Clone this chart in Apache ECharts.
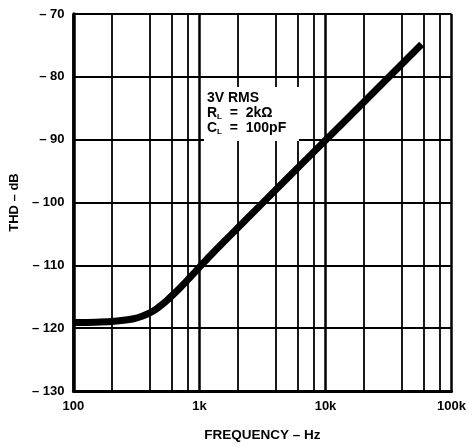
<!DOCTYPE html>
<html>
<head>
<meta charset="utf-8">
<script src="https://cdn.jsdelivr.net/npm/echarts@6/dist/echarts.min.js"></script>
<style>html,body{margin:0;padding:0;background:#fff}#c{width:469px;height:447px}</style>
</head>
<body>
<div id="c"></div>
<script>
var freq = [100, 150, 200, 250, 300, 350, 400, 450, 500, 550, 600, 700, 800, 900, 1000, 1200, 1500, 2000, 5000, 10000, 20000, 58000];
var thd = [-119.1, -119.05, -118.95, -118.75, -118.5, -118.1, -117.6, -117.0, -116.3, -115.6, -114.9, -113.6, -112.4, -111.3, -110.3, -108.6, -106.6, -104.1, -96.1, -90.1, -84.1, -74.8];
var minorFreqs = [200, 400, 600, 800, 2000, 4000, 6000, 8000, 20000, 40000, 60000, 80000];
var yTicks = [-130, -120, -110, -100, -90, -80, -70];
var xTickLabels = {100: '100', 1000: '1k', 10000: '10k', 100000: '100k'};
var noteLines = ['3V RMS', 'R{s|L}  =  2kΩ', 'C{s|L}  =  100pF'];

var font = '"Liberation Sans", Arial, Helvetica, sans-serif';
var chart = echarts.init(document.getElementById('c'), null, {renderer: 'canvas'});
var data = freq.map(function (f, i) { return [f, thd[i]]; });

var noteGraphics = [{
  type: 'rect', left: 204, top: 87, z: 100,
  shape: {width: 95, height: 54},
  style: {fill: '#fff'}
}];
noteLines.forEach(function (t, i) {
  noteGraphics.push({
    type: 'text', left: 207, top: 91 + i * 15, z: 101,
    style: {
      text: t, fill: '#000', fontSize: 14, fontWeight: 'bold', fontFamily: font,
      rich: {s: {fontSize: 8, fontWeight: 'bold', fontFamily: font, verticalAlign: 'bottom', padding: [7, 0, 0, 0], fill: '#000'}}
    }
  });
});

chart.setOption({
  animation: false,
  backgroundColor: '#fff',
  grid: {left: 71, right: 12.5, top: 14, bottom: 51},
  xAxis: {
    type: 'log', logBase: 10, min: 100, max: 100000,
    name: 'FREQUENCY – Hz', nameLocation: 'middle', nameGap: 37,
    nameTextStyle: {color: '#000', fontSize: 13.5, fontWeight: 'bold', fontFamily: font},
    axisLine: {show: true, lineStyle: {color: '#000', width: 3}},
    axisTick: {show: false},
    axisLabel: {
      color: '#000', fontSize: 13, fontWeight: 'bold', fontFamily: font, margin: 9,
      formatter: function (v) { return xTickLabels[Math.round(v)] || ''; }
    },
    splitLine: {show: true, lineStyle: {color: '#000', width: 2.5}}
  },
  yAxis: {
    type: 'value', min: -130, max: -70, interval: 10,
    name: 'THD – dB', nameLocation: 'middle', nameGap: 46, nameRotate: 90,
    nameTextStyle: {color: '#000', fontSize: 13, fontWeight: 'bold', fontFamily: font},
    axisLine: {show: true, lineStyle: {color: '#000', width: 3.5}},
    axisTick: {show: false},
    axisLabel: {
      color: '#000', fontSize: 13, fontWeight: 'bold', fontFamily: font, margin: 9,
      formatter: function (v) { return yTicks.indexOf(v) >= 0 ? '– ' + Math.abs(v) : ''; }
    },
    splitLine: {show: true, lineStyle: {color: '#000', width: 2}}
  },
  graphic: noteGraphics,
  series: [{
    type: 'line', data: data, smooth: 0.3, showSymbol: false, symbol: 'none',
    lineStyle: {color: '#000', width: 7}, z: 10,
    markLine: {
      silent: true, symbol: 'none', label: {show: false}, z: 1,
      lineStyle: {color: '#000', width: 1.8, type: 'solid'},
      data: minorFreqs.map(function (f) { return {xAxis: f}; })
    }
  }]
});
</script>
</body>
</html>
